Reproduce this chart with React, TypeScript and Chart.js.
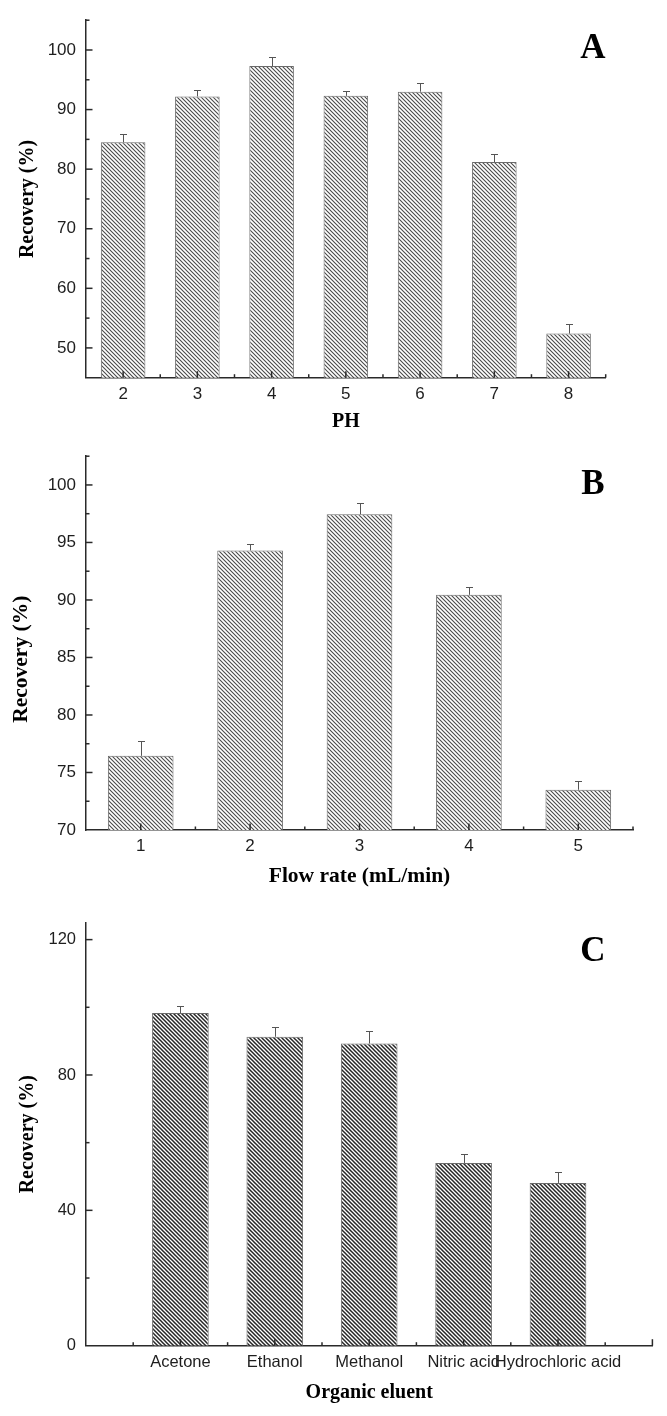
import React, { useEffect, useRef } from 'react';
import { Chart, registerables } from 'chart.js';

Chart.register(...registerables);

// ---------- data ----------
const phLabels = ['2', '3', '4', '5', '6', '7', '8'];
const phRecovery = [84.5, 92.2, 97.3, 92.3, 93.0, 81.2, 52.4];
const phError = [1.4, 1.1, 1.6, 0.8, 1.4, 1.3, 1.6];
const phYTicks = [50, 60, 70, 80, 90, 100];

const flowLabels = ['1', '2', '3', '4', '5'];
const flowRecovery = [76.45, 94.3, 97.45, 90.45, 73.5];
const flowError = [1.25, 0.6, 1.0, 0.65, 0.75];
const flowYTicks = [70, 75, 80, 85, 90, 95, 100];

const eluentLabels = ['Acetone', 'Ethanol', 'Methanol', 'Nitric acid', 'Hydrochloric acid'];
const eluentRecovery = [98.3, 91.3, 89.3, 54.0, 48.1];
const eluentError = [2.1, 3.0, 3.6, 2.7, 3.3];
const eluentYTicks = [0, 40, 80, 120];

// ---------- styles ----------
const AXIS = '#2a2a2a';
const SERIF = "'Liberation Serif', 'Times New Roman', serif";
const SANS = "'Liberation Sans', Arial, sans-serif";

type PanelCfg = {
  top: number;
  height: number;
  labels: string[];
  values: (number | null)[];
  errors: (number | null)[];
  yMin: number;
  yMax: number;
  yTicks: number[];
  xOffset: boolean;
  letter: string;
  xTitle: string;
  yTitle: string;
  padTop: number;
  padRight: number;
  xHeight: number;
  xTitlePad: number;
  yTitlePad: number;
  titleSize: number;
  tickSize: number;
  xTickPad: number;
  hatchWidth: number;
  hatchColor: string;
};

const panels: PanelCfg[] = [
  {
    top: 0, height: 436,
    labels: phLabels, values: phRecovery, errors: phError,
    yMin: 45, yMax: 105, yTicks: phYTicks, xOffset: true,
    letter: 'A', xTitle: 'PH', yTitle: 'Recovery (%)',
    padTop: 12, padRight: 61.3, xHeight: 58.3, xTitlePad: 2.3, yTitlePad: 16.3,
    titleSize: 20, tickSize: 17, xTickPad: 6,
    hatchWidth: 1.1, hatchColor: '#4a4a4a',
  },
  {
    top: 436, height: 464,
    labels: flowLabels, values: flowRecovery, errors: flowError,
    yMin: 70, yMax: 102.5, yTicks: flowYTicks, xOffset: true,
    letter: 'B', xTitle: 'Flow rate (mL/min)', yTitle: 'Recovery (%)      ',
    padTop: 4, padRight: 34, xHeight: 70, xTitlePad: 10.4, yTitlePad: 8.1,
    titleSize: 21.5, tickSize: 17, xTickPad: 6,
    hatchWidth: 1.1, hatchColor: '#4a4a4a',
  },
  {
    top: 900, height: 516,
    labels: ['', ...eluentLabels, ''],
    values: [null, ...eluentRecovery, null],
    errors: [null, ...eluentError, null],
    yMin: 0, yMax: 125, yTicks: eluentYTicks, xOffset: false,
    letter: 'C', xTitle: 'Organic eluent', yTitle: 'Recovery (%)',
    padTop: 22.7, padRight: 14.6, xHeight: 70.3, xTitlePad: 10.7, yTitlePad: 15.6,
    titleSize: 20, tickSize: 16.5, xTickPad: 7,
    hatchWidth: 1.5, hatchColor: '#262626',
  },
];

function makeHatch(size: number, lineWidth: number, color: string) {
  const c = document.createElement('canvas');
  c.width = size;
  c.height = size;
  const g = c.getContext('2d')!;
  g.fillStyle = '#ffffff';
  g.fillRect(0, 0, size, size);
  g.strokeStyle = color;
  g.lineWidth = lineWidth;
  g.beginPath();
  for (const k of [-1, 0, 1]) {
    g.moveTo(k * size - size, -size);
    g.lineTo(k * size + 2 * size, 2 * size);
  }
  g.stroke();
  return g.createPattern(c, 'repeat')!;
}

function decorPlugin(p: PanelCfg) {
  return {
    id: 'decor',
    afterDatasetsDraw(chart: any) {
      const ctx: CanvasRenderingContext2D = chart.ctx;
      const xs = chart.scales.x;
      const ys = chart.scales.y;
      const area = chart.chartArea;
      const meta = chart.getDatasetMeta(0);
      ctx.save();
      // error bars (upper only)
      ctx.strokeStyle = '#555555';
      ctx.lineWidth = 1;
      p.values.forEach((v, i) => {
        const e = p.errors[i];
        if (v == null || e == null) return;
        const bar = meta.data[i];
        const x = Math.round(bar.x) + 0.5;
        const y0 = ys.getPixelForValue(v);
        const y1 = Math.round(ys.getPixelForValue(v + e)) + 0.5;
        ctx.beginPath();
        ctx.moveTo(x, y0);
        ctx.lineTo(x, y1);
        ctx.moveTo(x - 3.5, y1);
        ctx.lineTo(x + 3.5, y1);
        ctx.stroke();
      });
      // inward tick marks
      ctx.strokeStyle = AXIS;
      ctx.lineWidth = 1.5;
      const major = 6.5;
      const minor = 3.5;
      const half = (p.yTicks[1] - p.yTicks[0]) / 2;
      for (let v = p.yMin + half; v <= p.yMax + 1e-9; v += half) {
        const isMajor = p.yTicks.some((t) => Math.abs(t - v) < 1e-6);
        const y = ys.getPixelForValue(v);
        ctx.beginPath();
        ctx.moveTo(area.left, y);
        ctx.lineTo(area.left + (isMajor ? major : minor), y);
        ctx.stroke();
      }
      const n = chart.data.labels.length;
      const start = p.xOffset ? -0.5 : 0;
      const end = p.xOffset ? n - 0.5 : n - 1;
      for (let pos = start + 0.5; pos <= end + 1e-9; pos += 0.5) {
        const isMajor = Math.abs(pos - Math.round(pos)) < 1e-6;
        const x = xs.getPixelForValue(pos);
        ctx.beginPath();
        ctx.moveTo(x, area.bottom);
        ctx.lineTo(x, area.bottom - (isMajor ? major : minor));
        ctx.stroke();
      }
      ctx.restore();
    },
    afterDraw(chart: any) {
      const ctx: CanvasRenderingContext2D = chart.ctx;
      ctx.save();
      ctx.fillStyle = '#000000';
      ctx.font = `bold 35px ${SERIF}`;
      ctx.textAlign = 'center';
      ctx.textBaseline = 'middle';
      ctx.fillText(p.letter, 593, chart.chartArea.top + 29);
      ctx.restore();
    },
  };
}

function Panel({ p }: { p: PanelCfg }) {
  const ref = useRef<HTMLCanvasElement>(null);
  useEffect(() => {
    const canvas = ref.current!;
    const chart = new Chart(canvas, {
      type: 'bar',
      data: {
        labels: p.labels,
        datasets: [
          {
            data: p.values as any,
            backgroundColor: makeHatch(4, p.hatchWidth, p.hatchColor),
            borderColor: '#6a6a6a',
            borderWidth: 1,
            barPercentage: 0.6,
            categoryPercentage: 1,
          },
        ],
      },
      options: {
        responsive: false,
        animation: false,
        devicePixelRatio: 1,
        layout: { padding: { top: p.padTop, right: p.padRight, left: 0, bottom: 0 } },
        plugins: { legend: { display: false }, tooltip: { enabled: false } },
        scales: {
          x: {
            type: 'category',
            offset: p.xOffset,
            grid: { display: false, drawTicks: false, tickLength: 0 },
            border: { display: true, color: AXIS, width: 1.5 },
            ticks: {
              autoSkip: false,
              maxRotation: 0,
              minRotation: 0,
              padding: p.xTickPad,
              color: '#1e1e1e',
              font: { family: SANS, size: p.tickSize },
            },
            title: {
              display: true,
              text: p.xTitle,
              color: '#000',
              font: { family: SERIF, size: p.titleSize, weight: 'bold' },
              padding: { top: 0, bottom: p.xTitlePad },
            },
            afterFit: (s: any) => {
              s.height = p.xHeight;
            },
          },
          y: {
            type: 'linear',
            min: p.yMin,
            max: p.yMax,
            grid: { display: false, drawTicks: false, tickLength: 0 },
            border: { display: true, color: AXIS, width: 1.5 },
            ticks: {
              padding: 10,
              color: '#1e1e1e',
              font: { family: SANS, size: p.tickSize },
              callback: (v: any) => String(v),
            },
            afterBuildTicks: (s: any) => {
              s.ticks = p.yTicks.map((v) => ({ value: v }));
            },
            title: {
              display: true,
              text: p.yTitle,
              color: '#000',
              font: { family: SERIF, size: p.titleSize, weight: 'bold' },
              padding: { top: p.yTitlePad, bottom: 0 },
            },
            afterFit: (s: any) => {
              s.width = 86;
            },
          },
        },
      } as any,
      plugins: [decorPlugin(p)],
    });
    return () => chart.destroy();
  }, [p]);
  return (
    <canvas
      ref={ref}
      width={667}
      height={p.height}
      style={{ position: 'absolute', left: 0, top: p.top, width: 667, height: p.height, display: 'block' }}
    />
  );
}

export default function App() {
  useEffect(() => {
    document.body.style.margin = '0';
    document.body.style.background = '#ffffff';
  }, []);
  return (
    <div style={{ position: 'relative', width: 667, height: 1416, background: '#ffffff', overflow: 'hidden' }}>
      {panels.map((p) => (
        <Panel key={p.letter} p={p} />
      ))}
    </div>
  );
}
